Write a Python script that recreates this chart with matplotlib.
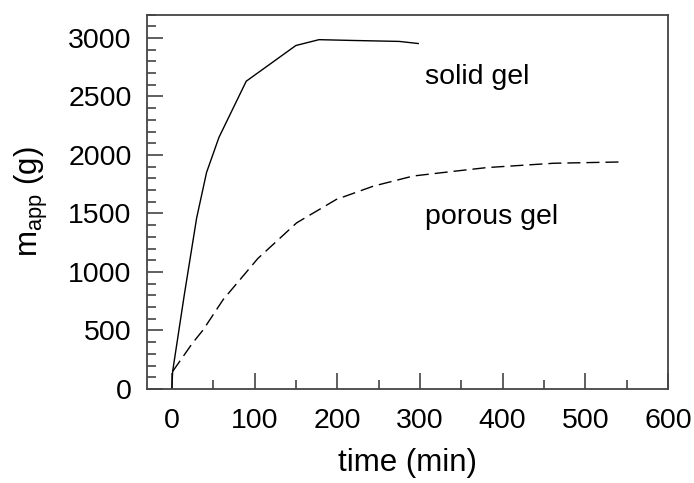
import matplotlib
matplotlib.use("Agg")
import matplotlib.pyplot as plt
from matplotlib.ticker import MultipleLocator

plt.rcParams['font.family'] = ['Liberation Sans', 'DejaVu Sans']
plt.rcParams['mathtext.fontset'] = 'custom'
plt.rcParams['mathtext.rm'] = 'Liberation Sans'

solid_t = [0, 1, 15, 30, 42, 57, 90, 150, 178, 220, 275, 298]
solid_m = [0, 150, 800, 1460, 1850, 2150, 2630, 2935, 2985, 2978, 2970, 2952]

porous_t = [1, 25, 38, 62, 104, 151, 199, 244, 292, 337, 381, 462, 543]
porous_m = [150, 392, 506, 763, 1115, 1420, 1620, 1734, 1820, 1857, 1892, 1929, 1940]

xticks = [0, 100, 200, 300, 400, 500, 600]
yticks = [0, 500, 1000, 1500, 2000, 2500, 3000]
label_solid = "solid gel"
label_porous = "porous gel"

fig = plt.figure(figsize=(6.94, 4.83), dpi=100)
ax = fig.add_axes([147/694, 1-389/483, (668-147)/694, (389-14.5)/483])

ax.plot(solid_t, solid_m, color='black', lw=1.0)
ax.plot(porous_t, porous_m, color='black', lw=1.0, dashes=(9.4, 4.3))

ax.text(306, 2666, label_solid, fontsize=20.5, va='center', ha='left')
ax.text(306, 1466, label_porous, fontsize=20.5, va='center', ha='left')

ax.set_xlim(-30, 600)
ax.set_ylim(0, 3200)
ax.set_xticks(xticks)
ax.set_yticks(yticks)
ax.xaxis.set_minor_locator(MultipleLocator(50))
ax.yaxis.set_minor_locator(MultipleLocator(100))
spc = '#444444'
ax.tick_params(which='major', direction='in', length=11.5, width=1.2, color=spc,
               labelsize=20.5)
ax.tick_params(axis='x', which='major', pad=14)
ax.tick_params(axis='y', which='major', pad=11)
ax.tick_params(which='minor', direction='in', length=6.5, width=1.2, color=spc)
ax.tick_params(top=False, right=False, which='both')
for s in ax.spines.values():
    s.set_color(spc)
    s.set_linewidth(1.3)

ax.set_xlabel('time (min)', fontsize=22.5, labelpad=10)
ax.set_ylabel(r'm$_{\mathrm{app}}$ (g)', fontsize=22.5, labelpad=13)

fig.savefig('out.png', dpi=100)
